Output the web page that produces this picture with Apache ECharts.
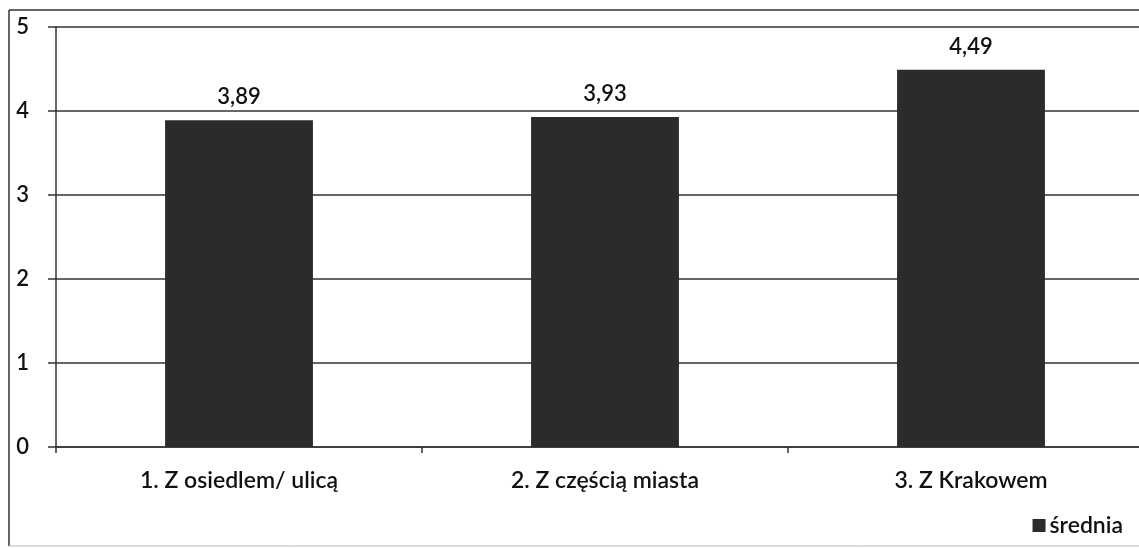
<!DOCTYPE html>
<html><head><meta charset="utf-8">
<script src="https://cdn.jsdelivr.net/npm/echarts@6/dist/echarts.min.js"></script>
<style>html,body{margin:0;padding:0;background:#fff;overflow:hidden}#c{width:1139px;height:548px}</style>
</head><body><div id="c"></div>
<script>
const categories = ['1. Z osiedlem/ ulicą', '2. Z częścią miasta', '3. Z Krakowem'];
const values = [3.89, 3.93, 4.49];
const seriesName = 'średnia';
const yTicks = [0, 1, 2, 3, 4, 5];

const chart = echarts.init(document.getElementById('c'));
const font = 'Lato, "Open Sans", sans-serif';
chart.setOption({
  animation: false,
  backgroundColor: '#fff',
  graphic: [
    { type: 'line', shape: { x1: 9, y1: 10, x2: 1139, y2: 10 }, style: { stroke: '#333', lineWidth: 1.5 }, silent: true },
    { type: 'line', shape: { x1: 9, y1: 10, x2: 9, y2: 546 }, style: { stroke: '#333', lineWidth: 1.5 }, silent: true },
    { type: 'line', shape: { x1: 9, y1: 546, x2: 1139, y2: 546 }, style: { stroke: '#bbb', lineWidth: 1 }, silent: true }
  ],
  grid: { left: 56, top: 27, right: -15, bottom: 101, containLabel: false, outerBoundsMode: 'none' },
  legend: {
    right: 11, top: 509, itemWidth: 13, itemHeight: 13, itemGap: 5,
    icon: 'rect',
    textStyle: { fontFamily: font, fontSize: 23, fontWeight: 600, color: '#111', padding: [0,0,0,-1] },
    data: [seriesName]
  },
  xAxis: {
    type: 'category', data: categories,
    axisLine: { lineStyle: { color: '#333', width: 1.5 } },
    axisTick: { show: true, length: 6, lineStyle: { color: '#333', width: 1.5 } },
    axisLabel: { margin: 22, fontFamily: font, fontSize: 23, fontWeight: 600, color: '#111' }
  },
  yAxis: {
    type: 'value', min: 0, max: 5, interval: 1,
    axisLine: { show: true, lineStyle: { color: '#333', width: 1.5 } },
    axisTick: { show: true, length: 8, lineStyle: { color: '#333', width: 1.5 } },
    axisLabel: { margin: 27, fontFamily: font, fontSize: 22, fontWeight: 600, color: '#111',
      formatter: v => yTicks.includes(v) ? String(v) : '' },
    splitLine: { lineStyle: { color: '#333', width: 1.5 } }
  },
  series: [{
    name: seriesName, type: 'bar', data: values, barWidth: '40.4%',
    itemStyle: { color: '#2b2b2b' },
    label: { show: true, position: 'top', distance: 12, fontFamily: font, fontSize: 22, fontWeight: 600,
      color: '#111', formatter: p => p.value.toFixed(2).replace('.', ',') }
  }]
});
</script></body></html>
